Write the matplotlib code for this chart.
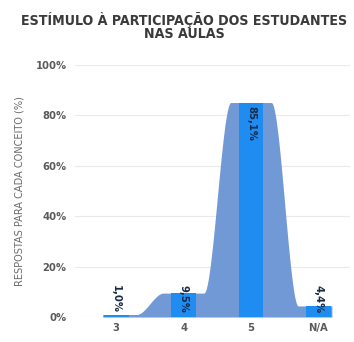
import numpy as np
import matplotlib
matplotlib.use('Agg')
import matplotlib.pyplot as plt

plt.rcParams['font.family'] = ['DejaVu Sans']

categories = ['3', '4', '5', 'N/A']
values = [1.0, 9.5, 85.1, 4.4]
labels = ['1,0%', '9,5%', '85,1%', '4,4%']
yticks = [0, 20, 40, 60, 80, 100]

area_color = '#7199d6'
bar_color = '#1f8cf2'
text_gray = '#5a5a5a'

fig = plt.figure(figsize=(3.54, 3.42), dpi=100)
ax = fig.add_axes([0.212, 0.073, 0.777, 0.737])

# smooth stepped area behind the bars
pos = np.arange(len(values))
xs = np.linspace(-0.2, len(values) - 0.8, 600)
k = np.clip(np.floor(xs).astype(int), 0, len(values) - 2)
t = np.clip((xs - k - 0.3) / 0.4, 0, 1)
s = t * t * (3 - 2 * t)
v = np.array(values)
ys = v[k] + (v[k + 1] - v[k]) * s
ax.fill_between(xs, 0, ys, color=area_color, lw=0, zorder=2)

ax.bar(pos, values, width=0.37, color=bar_color, zorder=3)

for x, val, lab in zip(pos, values, labels):
    top = val - 1.5 if val > 20 else 12.7
    ax.text(x, top, lab, rotation=-90, ha='center', va='top', fontstretch='condensed',
            fontsize=8, fontweight='bold', color='#1a2a44', zorder=4)

ax.set_xlim(-0.61, 3.47)
ax.set_ylim(0, 100)
ax.set_xticks(pos)
ax.set_xticklabels(categories, fontsize=8, color=text_gray, fontstretch='condensed',
                   fontweight='semibold')
ax.set_yticks(yticks)
ax.set_yticklabels([f'{y}%' for y in yticks], fontsize=8, color=text_gray,
                   fontstretch='condensed', fontweight='semibold')
ax.tick_params(length=0, pad=6)
ax.tick_params(axis='x', pad=4)
ax.grid(axis='y', color='#eaeaea', lw=0.8, zorder=0)
for sp in ax.spines.values():
    sp.set_visible(False)

ax.set_ylabel('RESPOSTAS PARA CADA CONCEITO (%)', fontsize=7.8, color='#6a6a6a', labelpad=8,
              fontstretch='condensed')
fig.text(0.52, 0.965, 'ESTÍMULO À PARTICIPAÇÃO DOS ESTUDANTES\nNAS AULAS',
         ha='center', va='top', fontsize=10.2, fontweight='semibold', color='#3a3a3a',
         fontstretch='condensed', linespacing=0.92)

fig.savefig('out.png', dpi=100)
